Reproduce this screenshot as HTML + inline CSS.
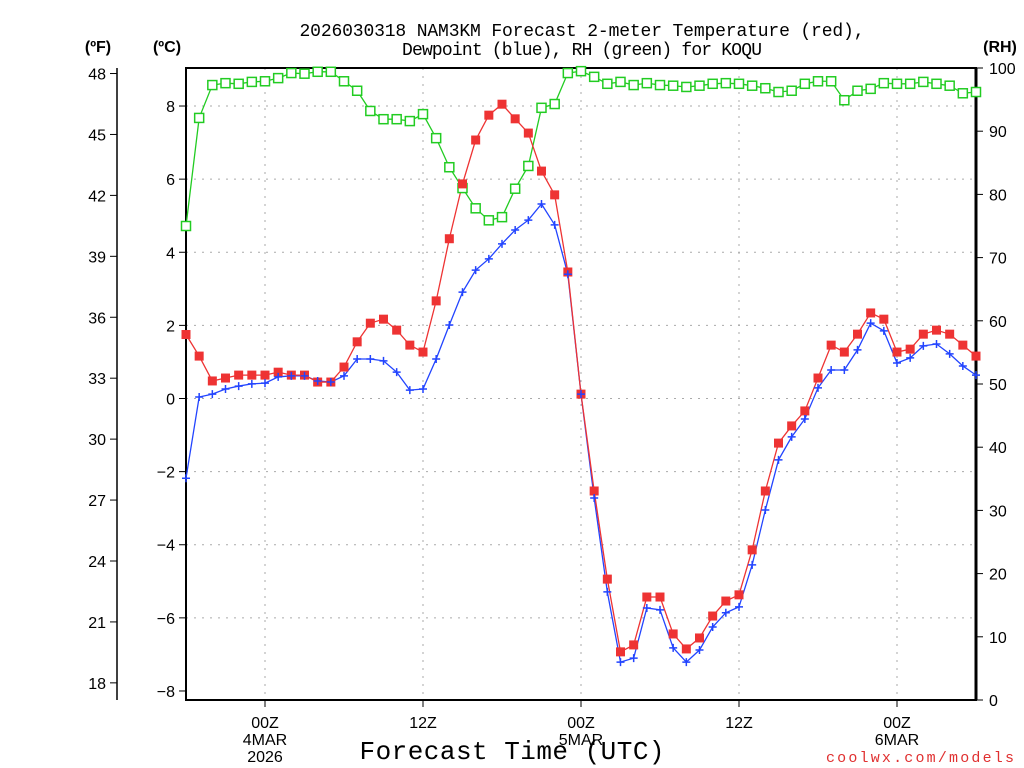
<!DOCTYPE html>
<html><head><meta charset="utf-8"><style>
body{margin:0;background:#fff}
svg{display:block;font-family:"Liberation Sans",sans-serif}
</style></head><body>
<svg id="chart" width="1024" height="768" viewBox="0 0 1024 768" xmlns="http://www.w3.org/2000/svg">
<rect width="1024" height="768" fill="#fff"/>
<g id="grid"></g>
<g id="axes"></g>
<g id="series"></g>
<text x="582" y="36" font-size="18" font-family="Liberation Mono, monospace" textLength="565" text-anchor="middle">2026030318 NAM3KM Forecast 2-meter Temperature (red),</text>
<text x="582" y="55" font-size="18" font-family="Liberation Mono, monospace" textLength="360" text-anchor="middle">Dewpoint (blue), RH (green) for KOQU</text>
<text x="98" y="52" font-size="16" font-weight="bold" text-anchor="middle">(ºF)</text>
<text x="167" y="52" font-size="16" font-weight="bold" text-anchor="middle">(ºC)</text>
<text x="1000" y="52" font-size="16" font-weight="bold" text-anchor="middle">(RH)</text>
<text x="512" y="759" font-size="26" font-family="Liberation Mono, monospace" textLength="305" text-anchor="middle">Forecast Time (UTC)</text>
<text x="1014" y="762" font-size="15" font-family="Liberation Mono, monospace" fill="#e03030" text-anchor="end" textLength="188">coolwx.com/models</text>
</svg>
<script>
const hours=[0,1,2,3,4,5,6,7,8,9,10,11,12,13,14,15,16,17,18,19,20,21,22,23,24,25,26,27,28,29,30,31,32,33,34,35,36,37,38,39,40,41,42,43,44,45,46,47,48,49,50,51,52,53,54,55,56,57,58,59,60];
const tempC=[1.75,1.16,0.48,0.56,0.64,0.64,0.64,0.72,0.64,0.64,0.45,0.45,0.86,1.55,2.06,2.17,1.87,1.46,1.27,2.67,4.37,5.87,7.07,7.75,8.05,7.65,7.26,6.22,5.57,3.46,0.12,-2.53,-4.94,-6.93,-6.74,-5.43,-5.43,-6.44,-6.85,-6.55,-5.95,-5.54,-5.37,-4.14,-2.53,-1.22,-0.75,-0.34,0.56,1.46,1.27,1.76,2.34,2.17,1.27,1.35,1.76,1.87,1.76,1.46,1.16];
const dewC=[-2.18,0.04,0.12,0.26,0.34,0.40,0.42,0.59,0.62,0.62,0.48,0.45,0.62,1.08,1.08,1.03,0.72,0.23,0.26,1.08,2.01,2.91,3.51,3.82,4.23,4.61,4.88,5.32,4.75,3.40,0.12,-2.72,-5.29,-7.21,-7.10,-5.73,-5.78,-6.82,-7.21,-6.88,-6.25,-5.86,-5.70,-4.55,-3.05,-1.68,-1.05,-0.56,0.29,0.78,0.78,1.33,2.06,1.85,0.97,1.11,1.44,1.49,1.22,0.89,0.64];
const rh=[75,92.1,97.3,97.6,97.5,97.8,97.9,98.4,99.2,99.1,99.4,99.4,97.9,96.4,93.2,91.9,91.9,91.6,92.7,88.9,84.3,81.0,77.8,75.9,76.4,80.9,84.5,93.7,94.3,99.2,99.5,98.6,97.5,97.8,97.3,97.6,97.3,97.2,97.0,97.2,97.5,97.6,97.5,97.2,96.8,96.2,96.4,97.5,97.9,97.9,94.9,96.4,96.7,97.6,97.5,97.5,97.8,97.5,97.2,96.0,96.2];
const cTicks=[-8,-6,-4,-2,0,2,4,6,8];
const fTicks=[18,21,24,27,30,33,36,39,42,45,48];
const rhTicks=[0,10,20,30,40,50,60,70,80,90,100];
const xTickHours=[6,18,30,42,54];
const xTickLabels=[["00Z","4MAR","2026"],["12Z"],["00Z","5MAR"],["12Z"],["00Z","6MAR"]];

const L=186,R=976,T=68,B=700;
const xs=h=>L+(h/60)*(R-L);
const yC=c=>398.5-c*36.56;
const yF=f=>yC((f-32)*5/9);
const yRH=v=>B-v*(B-T)/100;
const NS="http://www.w3.org/2000/svg";
function mk(tag,attrs,parent){const e=document.createElementNS(NS,tag);for(const k in attrs)e.setAttribute(k,attrs[k]);parent.appendChild(e);return e;}
const grid=document.getElementById('grid'),axes=document.getElementById('axes'),ser=document.getElementById('series');

cTicks.forEach(c=>{
  if(c>-8){const g=mk('line',{x1:L,x2:R,y1:yC(c),y2:yC(c),stroke:'#aaa','stroke-dasharray':'2,6'},grid);
  
  }
  const t=mk('line',{x1:L-7,x2:L,y1:yC(c),y2:yC(c),stroke:'#000'},axes);
  
  
  const tx=mk('text',{x:L-11,y:yC(c)+6,'font-size':16,'text-anchor':'end'},axes);
  tx.textContent=(c<0?'\u2212'+(-c):c);
  
  
});
xTickHours.forEach((h,i)=>{
  const g=mk('line',{x1:xs(h),x2:xs(h),y1:T,y2:B,stroke:'#aaa','stroke-dasharray':'2,6'},grid);
  
  
  const t=mk('line',{x1:xs(h),x2:xs(h),y1:B,y2:B+7,stroke:'#000'},axes);
  
  
  xTickLabels[i].forEach((s,j)=>{
    const tx=mk('text',{x:xs(h),y:B+28+j*17,'font-size':16,'text-anchor':'middle'},axes);
    tx.textContent=s;
    
    
  });
});
const fa=mk('line',{x1:117,x2:117,y1:T,y2:B,stroke:'#000','stroke-width':1.5},axes);


fTicks.forEach(f=>{
  const t=mk('line',{x1:110,x2:117,y1:yF(f),y2:yF(f),stroke:'#000'},axes);
  
  
  const tx=mk('text',{x:106,y:yF(f)+6,'font-size':16,'text-anchor':'end'},axes);
  tx.textContent=f;
  
  
});
rhTicks.forEach(v=>{
  const t=mk('line',{x1:R,x2:R+7,y1:yRH(v),y2:yRH(v),stroke:'#000'},axes);
  
  
  const tx=mk('text',{x:989,y:yRH(v)+6,'font-size':16},axes);
  tx.textContent=v;
  
  
});
const fr=mk('rect',{x:L,y:T,width:R-L,height:B-T,fill:'none',stroke:'#000','stroke-width':2},axes);


const ra=mk('line',{x1:R,x2:R,y1:T,y2:B,stroke:'#000','stroke-width':3},axes);



function line(vals,yf,color,name){
  const p=mk('polyline',{points:vals.map((v,i)=>xs(hours[i])+','+yf(v)).join(' '),fill:'none',stroke:color,'stroke-width':1.3},ser);
  
  
}
line(rh,yRH,'#22cc22','rh-line');
line(dewC,yC,'#2244ff','dewpoint-line');
line(tempC,yC,'#ee3333','temperature-line');
rh.forEach((v,i)=>{
  const m=mk('rect',{x:xs(hours[i])-4.5,y:yRH(v)-4.5,width:9,height:9,fill:'#fff',stroke:'#22cc22','stroke-width':1.5},ser);
  
  
});
tempC.forEach((v,i)=>{
  const m=mk('rect',{x:xs(hours[i])-4.5,y:yC(v)-4.5,width:9,height:9,fill:'#ee3333'},ser);
  
  
});
dewC.forEach((v,i)=>{
  const x=xs(hours[i]),y=yC(v);
  const m=mk('path',{d:`M${x-4},${y}H${x+4}M${x},${y-4}V${y+4}`,stroke:'#2244ff','stroke-width':1.5},ser);
  
  
});
</script>
</body></html>
